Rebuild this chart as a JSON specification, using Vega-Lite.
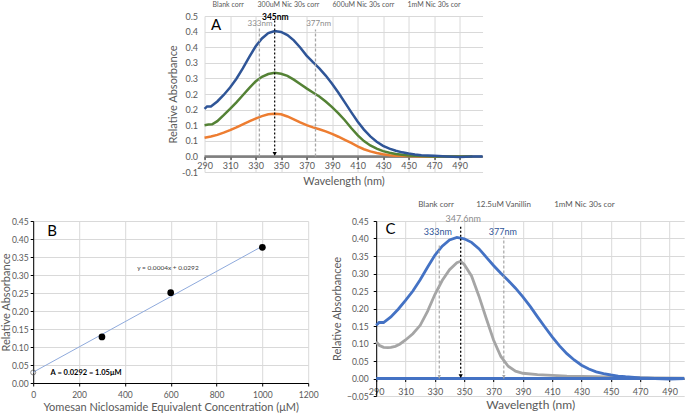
{
  "$schema": "https://vega.github.io/schema/vega-lite/v6.json",
  "padding": {"left": 0, "top": 1, "right": 0, "bottom": 0},
  "background": "white",
  "config": {
    "view": {"stroke": null},
    "font": "Lato",
    "axis": {"labelColor": "#595959", "titleColor": "#595959", "gridColor": "#D9D9D9", "labelFontSize": 9, "titleFontWeight": "normal", "titleFontSize": 11, "labelFont": "Lato", "titleFont": "Lato", "labelOverlap": false, "labelFlush": false, "tickCount": 30},
    "legend": {"labelColor": "#595959", "labelFont": "Lato"}
  },
  "resolve": {"scale": {"color": "independent"}, "legend": {"color": "independent"}},
  "datasets": {
    "A": [
      {"s": "Blank corr", "wl": 290, "abs": 0},
      {"s": "Blank corr", "wl": 400, "abs": 0},
      {"s": "Blank corr", "wl": 508, "abs": 0},
      {"s": "300uM Nic 30s corr", "wl": 290, "abs": 0.060},
      {"s": "300uM Nic 30s corr", "wl": 295, "abs": 0.064},
      {"s": "300uM Nic 30s corr", "wl": 300, "abs": 0.069},
      {"s": "300uM Nic 30s corr", "wl": 305, "abs": 0.076},
      {"s": "300uM Nic 30s corr", "wl": 310, "abs": 0.084},
      {"s": "300uM Nic 30s corr", "wl": 315, "abs": 0.093},
      {"s": "300uM Nic 30s corr", "wl": 320, "abs": 0.103},
      {"s": "300uM Nic 30s corr", "wl": 325, "abs": 0.112},
      {"s": "300uM Nic 30s corr", "wl": 330, "abs": 0.121},
      {"s": "300uM Nic 30s corr", "wl": 335, "abs": 0.129},
      {"s": "300uM Nic 30s corr", "wl": 340, "abs": 0.135},
      {"s": "300uM Nic 30s corr", "wl": 345, "abs": 0.137},
      {"s": "300uM Nic 30s corr", "wl": 350, "abs": 0.135},
      {"s": "300uM Nic 30s corr", "wl": 355, "abs": 0.128},
      {"s": "300uM Nic 30s corr", "wl": 360, "abs": 0.119},
      {"s": "300uM Nic 30s corr", "wl": 365, "abs": 0.109},
      {"s": "300uM Nic 30s corr", "wl": 370, "abs": 0.100},
      {"s": "300uM Nic 30s corr", "wl": 375, "abs": 0.093},
      {"s": "300uM Nic 30s corr", "wl": 380, "abs": 0.087},
      {"s": "300uM Nic 30s corr", "wl": 385, "abs": 0.080},
      {"s": "300uM Nic 30s corr", "wl": 390, "abs": 0.072},
      {"s": "300uM Nic 30s corr", "wl": 395, "abs": 0.063},
      {"s": "300uM Nic 30s corr", "wl": 400, "abs": 0.053},
      {"s": "300uM Nic 30s corr", "wl": 405, "abs": 0.043},
      {"s": "300uM Nic 30s corr", "wl": 410, "abs": 0.032},
      {"s": "300uM Nic 30s corr", "wl": 415, "abs": 0.023},
      {"s": "300uM Nic 30s corr", "wl": 420, "abs": 0.016},
      {"s": "300uM Nic 30s corr", "wl": 425, "abs": 0.011},
      {"s": "300uM Nic 30s corr", "wl": 430, "abs": 0.007},
      {"s": "300uM Nic 30s corr", "wl": 435, "abs": 0.004},
      {"s": "300uM Nic 30s corr", "wl": 440, "abs": 0.002},
      {"s": "300uM Nic 30s corr", "wl": 450, "abs": 0.001},
      {"s": "300uM Nic 30s corr", "wl": 460, "abs": 0.000},
      {"s": "300uM Nic 30s corr", "wl": 500, "abs": 0.000},
      {"s": "600uM Nic 30s corr", "wl": 290, "abs": 0.100},
      {"s": "600uM Nic 30s corr", "wl": 293, "abs": 0.102},
      {"s": "600uM Nic 30s corr", "wl": 296, "abs": 0.103},
      {"s": "600uM Nic 30s corr", "wl": 300, "abs": 0.113},
      {"s": "600uM Nic 30s corr", "wl": 305, "abs": 0.132},
      {"s": "600uM Nic 30s corr", "wl": 310, "abs": 0.152},
      {"s": "600uM Nic 30s corr", "wl": 315, "abs": 0.173},
      {"s": "600uM Nic 30s corr", "wl": 320, "abs": 0.196},
      {"s": "600uM Nic 30s corr", "wl": 325, "abs": 0.219},
      {"s": "600uM Nic 30s corr", "wl": 330, "abs": 0.240},
      {"s": "600uM Nic 30s corr", "wl": 335, "abs": 0.255},
      {"s": "600uM Nic 30s corr", "wl": 340, "abs": 0.264},
      {"s": "600uM Nic 30s corr", "wl": 345, "abs": 0.268},
      {"s": "600uM Nic 30s corr", "wl": 350, "abs": 0.265},
      {"s": "600uM Nic 30s corr", "wl": 355, "abs": 0.258},
      {"s": "600uM Nic 30s corr", "wl": 360, "abs": 0.246},
      {"s": "600uM Nic 30s corr", "wl": 365, "abs": 0.232},
      {"s": "600uM Nic 30s corr", "wl": 370, "abs": 0.218},
      {"s": "600uM Nic 30s corr", "wl": 375, "abs": 0.205},
      {"s": "600uM Nic 30s corr", "wl": 380, "abs": 0.192},
      {"s": "600uM Nic 30s corr", "wl": 385, "abs": 0.176},
      {"s": "600uM Nic 30s corr", "wl": 390, "abs": 0.158},
      {"s": "600uM Nic 30s corr", "wl": 395, "abs": 0.138},
      {"s": "600uM Nic 30s corr", "wl": 400, "abs": 0.116},
      {"s": "600uM Nic 30s corr", "wl": 405, "abs": 0.091},
      {"s": "600uM Nic 30s corr", "wl": 410, "abs": 0.068},
      {"s": "600uM Nic 30s corr", "wl": 415, "abs": 0.049},
      {"s": "600uM Nic 30s corr", "wl": 420, "abs": 0.035},
      {"s": "600uM Nic 30s corr", "wl": 425, "abs": 0.025},
      {"s": "600uM Nic 30s corr", "wl": 430, "abs": 0.017},
      {"s": "600uM Nic 30s corr", "wl": 435, "abs": 0.012},
      {"s": "600uM Nic 30s corr", "wl": 440, "abs": 0.008},
      {"s": "600uM Nic 30s corr", "wl": 450, "abs": 0.003},
      {"s": "600uM Nic 30s corr", "wl": 460, "abs": 0.001},
      {"s": "600uM Nic 30s corr", "wl": 470, "abs": 0.000},
      {"s": "600uM Nic 30s corr", "wl": 500, "abs": 0.000},
      {"s": "1mM Nic 30s cor", "wl": 290, "abs": 0.152},
      {"s": "1mM Nic 30s cor", "wl": 292, "abs": 0.160},
      {"s": "1mM Nic 30s cor", "wl": 295, "abs": 0.160},
      {"s": "1mM Nic 30s cor", "wl": 300, "abs": 0.176},
      {"s": "1mM Nic 30s cor", "wl": 305, "abs": 0.197},
      {"s": "1mM Nic 30s cor", "wl": 310, "abs": 0.221},
      {"s": "1mM Nic 30s cor", "wl": 315, "abs": 0.249},
      {"s": "1mM Nic 30s cor", "wl": 320, "abs": 0.282},
      {"s": "1mM Nic 30s cor", "wl": 325, "abs": 0.318},
      {"s": "1mM Nic 30s cor", "wl": 330, "abs": 0.352},
      {"s": "1mM Nic 30s cor", "wl": 335, "abs": 0.378},
      {"s": "1mM Nic 30s cor", "wl": 340, "abs": 0.395},
      {"s": "1mM Nic 30s cor", "wl": 345, "abs": 0.402},
      {"s": "1mM Nic 30s cor", "wl": 350, "abs": 0.399},
      {"s": "1mM Nic 30s cor", "wl": 355, "abs": 0.389},
      {"s": "1mM Nic 30s cor", "wl": 360, "abs": 0.372},
      {"s": "1mM Nic 30s cor", "wl": 365, "abs": 0.349},
      {"s": "1mM Nic 30s cor", "wl": 370, "abs": 0.323},
      {"s": "1mM Nic 30s cor", "wl": 375, "abs": 0.302},
      {"s": "1mM Nic 30s cor", "wl": 380, "abs": 0.282},
      {"s": "1mM Nic 30s cor", "wl": 385, "abs": 0.259},
      {"s": "1mM Nic 30s cor", "wl": 390, "abs": 0.233},
      {"s": "1mM Nic 30s cor", "wl": 395, "abs": 0.204},
      {"s": "1mM Nic 30s cor", "wl": 400, "abs": 0.173},
      {"s": "1mM Nic 30s cor", "wl": 405, "abs": 0.142},
      {"s": "1mM Nic 30s cor", "wl": 410, "abs": 0.112},
      {"s": "1mM Nic 30s cor", "wl": 415, "abs": 0.086},
      {"s": "1mM Nic 30s cor", "wl": 420, "abs": 0.064},
      {"s": "1mM Nic 30s cor", "wl": 425, "abs": 0.047},
      {"s": "1mM Nic 30s cor", "wl": 430, "abs": 0.034},
      {"s": "1mM Nic 30s cor", "wl": 435, "abs": 0.025},
      {"s": "1mM Nic 30s cor", "wl": 440, "abs": 0.018},
      {"s": "1mM Nic 30s cor", "wl": 445, "abs": 0.013},
      {"s": "1mM Nic 30s cor", "wl": 450, "abs": 0.009},
      {"s": "1mM Nic 30s cor", "wl": 455, "abs": 0.006},
      {"s": "1mM Nic 30s cor", "wl": 460, "abs": 0.004},
      {"s": "1mM Nic 30s cor", "wl": 470, "abs": 0.002},
      {"s": "1mM Nic 30s cor", "wl": 480, "abs": 0.000},
      {"s": "1mM Nic 30s cor", "wl": 490, "abs": -0.002},
      {"s": "1mM Nic 30s cor", "wl": 500, "abs": 0.000},
      {"s": "1mM Nic 30s cor", "wl": 508, "abs": 0.000}
    ],
    "C": [
      {"s": "12.5uM Vanillin", "wl": 290, "abs": 0.105},
      {"s": "12.5uM Vanillin", "wl": 292, "abs": 0.095},
      {"s": "12.5uM Vanillin", "wl": 295, "abs": 0.089},
      {"s": "12.5uM Vanillin", "wl": 298, "abs": 0.088},
      {"s": "12.5uM Vanillin", "wl": 300, "abs": 0.089},
      {"s": "12.5uM Vanillin", "wl": 303, "abs": 0.092},
      {"s": "12.5uM Vanillin", "wl": 306, "abs": 0.098},
      {"s": "12.5uM Vanillin", "wl": 310, "abs": 0.110},
      {"s": "12.5uM Vanillin", "wl": 315, "abs": 0.128},
      {"s": "12.5uM Vanillin", "wl": 320, "abs": 0.152},
      {"s": "12.5uM Vanillin", "wl": 325, "abs": 0.192},
      {"s": "12.5uM Vanillin", "wl": 330, "abs": 0.240},
      {"s": "12.5uM Vanillin", "wl": 335, "abs": 0.280},
      {"s": "12.5uM Vanillin", "wl": 340, "abs": 0.311},
      {"s": "12.5uM Vanillin", "wl": 345, "abs": 0.331},
      {"s": "12.5uM Vanillin", "wl": 347.6, "abs": 0.335},
      {"s": "12.5uM Vanillin", "wl": 350, "abs": 0.326},
      {"s": "12.5uM Vanillin", "wl": 355, "abs": 0.293},
      {"s": "12.5uM Vanillin", "wl": 360, "abs": 0.236},
      {"s": "12.5uM Vanillin", "wl": 365, "abs": 0.172},
      {"s": "12.5uM Vanillin", "wl": 370, "abs": 0.110},
      {"s": "12.5uM Vanillin", "wl": 375, "abs": 0.063},
      {"s": "12.5uM Vanillin", "wl": 380, "abs": 0.035},
      {"s": "12.5uM Vanillin", "wl": 385, "abs": 0.021},
      {"s": "12.5uM Vanillin", "wl": 390, "abs": 0.015},
      {"s": "12.5uM Vanillin", "wl": 400, "abs": 0.011},
      {"s": "12.5uM Vanillin", "wl": 410, "abs": 0.009},
      {"s": "12.5uM Vanillin", "wl": 420, "abs": 0.007},
      {"s": "12.5uM Vanillin", "wl": 440, "abs": 0.005},
      {"s": "12.5uM Vanillin", "wl": 460, "abs": 0.003},
      {"s": "12.5uM Vanillin", "wl": 480, "abs": 0.002},
      {"s": "12.5uM Vanillin", "wl": 500, "abs": 0.001},
      {"s": "Blank corr", "wl": 290, "abs": 0},
      {"s": "Blank corr", "wl": 400, "abs": 0},
      {"s": "Blank corr", "wl": 500, "abs": 0},
      {"s": "1mM Nic 30s cor", "wl": 290, "abs": 0.152},
      {"s": "1mM Nic 30s cor", "wl": 292, "abs": 0.160},
      {"s": "1mM Nic 30s cor", "wl": 295, "abs": 0.160},
      {"s": "1mM Nic 30s cor", "wl": 300, "abs": 0.176},
      {"s": "1mM Nic 30s cor", "wl": 305, "abs": 0.198},
      {"s": "1mM Nic 30s cor", "wl": 310, "abs": 0.223},
      {"s": "1mM Nic 30s cor", "wl": 315, "abs": 0.250},
      {"s": "1mM Nic 30s cor", "wl": 320, "abs": 0.282},
      {"s": "1mM Nic 30s cor", "wl": 325, "abs": 0.318},
      {"s": "1mM Nic 30s cor", "wl": 330, "abs": 0.352},
      {"s": "1mM Nic 30s cor", "wl": 335, "abs": 0.378},
      {"s": "1mM Nic 30s cor", "wl": 340, "abs": 0.396},
      {"s": "1mM Nic 30s cor", "wl": 345, "abs": 0.403},
      {"s": "1mM Nic 30s cor", "wl": 350, "abs": 0.399},
      {"s": "1mM Nic 30s cor", "wl": 355, "abs": 0.389},
      {"s": "1mM Nic 30s cor", "wl": 360, "abs": 0.371},
      {"s": "1mM Nic 30s cor", "wl": 365, "abs": 0.347},
      {"s": "1mM Nic 30s cor", "wl": 370, "abs": 0.323},
      {"s": "1mM Nic 30s cor", "wl": 375, "abs": 0.301},
      {"s": "1mM Nic 30s cor", "wl": 380, "abs": 0.280},
      {"s": "1mM Nic 30s cor", "wl": 385, "abs": 0.258},
      {"s": "1mM Nic 30s cor", "wl": 390, "abs": 0.233},
      {"s": "1mM Nic 30s cor", "wl": 395, "abs": 0.206},
      {"s": "1mM Nic 30s cor", "wl": 400, "abs": 0.176},
      {"s": "1mM Nic 30s cor", "wl": 405, "abs": 0.147},
      {"s": "1mM Nic 30s cor", "wl": 410, "abs": 0.119},
      {"s": "1mM Nic 30s cor", "wl": 415, "abs": 0.093},
      {"s": "1mM Nic 30s cor", "wl": 420, "abs": 0.071},
      {"s": "1mM Nic 30s cor", "wl": 425, "abs": 0.053},
      {"s": "1mM Nic 30s cor", "wl": 430, "abs": 0.038},
      {"s": "1mM Nic 30s cor", "wl": 435, "abs": 0.027},
      {"s": "1mM Nic 30s cor", "wl": 440, "abs": 0.019},
      {"s": "1mM Nic 30s cor", "wl": 445, "abs": 0.014},
      {"s": "1mM Nic 30s cor", "wl": 450, "abs": 0.010},
      {"s": "1mM Nic 30s cor", "wl": 455, "abs": 0.007},
      {"s": "1mM Nic 30s cor", "wl": 460, "abs": 0.005},
      {"s": "1mM Nic 30s cor", "wl": 470, "abs": 0.002},
      {"s": "1mM Nic 30s cor", "wl": 480, "abs": 0.000},
      {"s": "1mM Nic 30s cor", "wl": 490, "abs": -0.002},
      {"s": "1mM Nic 30s cor", "wl": 500, "abs": 0.000}
    ],
    "Bpts": [
      {"conc": 300, "abs": 0.128},
      {"conc": 600, "abs": 0.251},
      {"conc": 1000, "abs": 0.377}
    ],
    "Bfit": [
      {"conc": 0, "abs": 0.030},
      {"conc": 1000, "abs": 0.380}
    ],
    "Bzero": [
      {"conc": 0, "abs": 0.0292}
    ]
  },
  "spacing": 14,
  "center": true,
  "vconcat": [
    {
      "width": 278,
      "height": 156,
      "resolve": {"axis": {"y": "independent"}},
      "layer": [
        {
          "data": {"name": "A"},
          "mark": {"type": "line", "strokeWidth": 2.5},
          "encoding": {
            "x": {"field": "wl", "type": "quantitative", "scale": {"domain": [290, 508], "nice": false, "zero": false},
              "axis": {"values": [290, 310, 330, 350, 370, 390, 410, 430, 450, 470, 490], "tickCount": 30, "labelOverlap": false, "title": "Wavelength (nm)", "offset": -15.6, "domainColor": "#000000", "tickColor": "#000000", "tickSize": 3, "labelPadding": 2, "titlePadding": 5, "labelFontSize": 9, "titleFontSize": 11}},
            "y": {"field": "abs", "type": "quantitative", "scale": {"domain": [-0.05, 0.45], "nice": false, "zero": false},
              "axis": {"values": [-0.05, 0, 0.05, 0.1, 0.15, 0.2, 0.25, 0.3, 0.35, 0.4, 0.45], "tickCount": 30, "labelOverlap": false, "labelExpr": "datum.value < -0.01 ? '-0.1' : format(round(datum.value * 10 + 0.001) / 10, '.1f')", "title": "Relative Absorbance", "domain": false, "ticks": false, "labelPadding": 7, "titlePadding": 3, "labelFontSize": 9, "titleFontSize": 11}},
            "color": {"field": "s", "type": "nominal",
              "scale": {"domain": ["Blank corr", "300uM Nic 30s corr", "600uM Nic 30s corr", "1mM Nic 30s cor"], "range": ["#7F7F7F", "#ED7D31", "#548235", "#2F5597"]},
              "legend": {"orient": "none", "legendX": -3, "legendY": -15, "title": null, "direction": "horizontal", "labelFontSize": 7, "symbolType": "circle", "symbolSize": 12, "columnPadding": 2, "gridAlign": "each", "symbolStrokeWidth": 0}}
          }
        },
        {
          "data": {"values": [{"wl": 333, "abs": 0, "top": 0.41}, {"wl": 377, "abs": 0, "top": 0.407}]},
          "mark": {"type": "rule", "strokeDash": [3, 2], "color": "#A6A6A6", "strokeWidth": 1.3},
          "encoding": {"x": {"field": "wl", "type": "quantitative"},
            "y": {"field": "abs", "type": "quantitative", "axis": {"orient": "right", "values": [-0.05, 0, 0.05, 0.1, 0.15, 0.2, 0.25, 0.3, 0.35, 0.4, 0.45], "tickCount": 30, "labelOverlap": false, "labelExpr": "datum.value < -0.01 ? '-0.1' : format(round(datum.value * 10 + 0.001) / 10, '.1f')", "labelColor": "transparent", "title": null, "domain": false, "ticks": false, "grid": false, "labelPadding": 20, "labelFontSize": 9}},
            "y2": {"field": "top"}}
        },
        {
          "data": {"values": [{"wl": 345, "abs": 0.006, "top": 0.437}]},
          "mark": {"type": "rule", "strokeDash": [2, 2], "color": "#000000", "strokeWidth": 1.2},
          "encoding": {"x": {"field": "wl", "type": "quantitative"}, "y": {"field": "abs", "type": "quantitative", "axis": null}, "y2": {"field": "top"}}
        },
        {
          "data": {"values": [{"wl": 345, "abs": 0.008}]},
          "mark": {"type": "point", "shape": "triangle-down", "filled": true, "color": "#000000", "size": 18, "opacity": 1},
          "encoding": {"x": {"field": "wl", "type": "quantitative"}, "y": {"field": "abs", "type": "quantitative", "axis": null}}
        },
        {
          "data": {"values": [{"wl": 333.5, "abs": 0.424, "label": "333nm"}, {"wl": 379.5, "abs": 0.424, "label": "377nm"}]},
          "mark": {"type": "text", "fontSize": 8, "color": "#8C8C8C"},
          "encoding": {"x": {"field": "wl", "type": "quantitative"}, "y": {"field": "abs", "type": "quantitative", "axis": null}, "text": {"field": "label"}}
        },
        {
          "data": {"values": [{"wl": 345.5, "abs": 0.447, "label": "345nm"}]},
          "mark": {"type": "text", "fontSize": 8.5, "fontWeight": "bold", "color": "#000000"},
          "encoding": {"x": {"field": "wl", "type": "quantitative"}, "y": {"field": "abs", "type": "quantitative", "axis": null}, "text": {"field": "label"}}
        },
        {
          "data": {"values": [{"wl": 299, "abs": 0.422, "label": "A"}]},
          "mark": {"type": "text", "fontSize": 15, "color": "#000000"},
          "encoding": {"x": {"field": "wl", "type": "quantitative"}, "y": {"field": "abs", "type": "quantitative", "axis": null}, "text": {"field": "label"}}
        }
      ]
    },
    {
      "spacing": 13,
      "resolve": {"scale": {"color": "independent"}, "legend": {"color": "independent"}},
      "hconcat": [
        {
          "width": 275,
          "height": 162,
          "layer": [
            {
              "data": {"name": "Bfit"},
              "mark": {"type": "line", "color": "#8FAADC", "strokeWidth": 1},
              "encoding": {
                "x": {"field": "conc", "type": "quantitative", "scale": {"domain": [0, 1200], "nice": false},
                  "axis": {"values": [0, 200, 400, 600, 800, 1000, 1200], "tickCount": 30, "labelOverlap": false, "format": "d", "title": "Yomesan Niclosamide  Equivalent Concentration (μM)", "domainColor": "#000000", "tickColor": "#000000", "tickSize": 3, "labelPadding": 4, "titlePadding": 3, "labelFontSize": 8.5, "titleFontSize": 11}},
                "y": {"field": "abs", "type": "quantitative", "scale": {"domain": [0, 0.45], "nice": false},
                  "axis": {"values": [0, 0.05, 0.1, 0.15, 0.2, 0.25, 0.3, 0.35, 0.4, 0.45], "tickCount": 30, "labelOverlap": false, "format": ".2f", "title": "Relative Absorbance", "domainColor": "#000000", "tickColor": "#000000", "tickSize": 3, "labelPadding": 2, "titlePadding": 0, "labelFontSize": 8.5, "titleFontSize": 11}}
              }
            },
            {
              "data": {"name": "Bpts"},
              "mark": {"type": "point", "filled": true, "color": "#000000", "size": 45, "opacity": 1},
              "encoding": {"x": {"field": "conc", "type": "quantitative"}, "y": {"field": "abs", "type": "quantitative"}}
            },
            {
              "data": {"name": "Bzero"},
              "mark": {"type": "point", "filled": false, "color": "#595959", "size": 25, "strokeWidth": 1},
              "encoding": {"x": {"field": "conc", "type": "quantitative"}, "y": {"field": "abs", "type": "quantitative"}}
            },
            {
              "data": {"values": [{"conc": 588, "abs": 0.32, "label": "y = 0.0004x + 0.0292"}]},
              "mark": {"type": "text", "fontSize": 6.5, "color": "#404040"},
              "encoding": {"x": {"field": "conc", "type": "quantitative"}, "y": {"field": "abs", "type": "quantitative"}, "text": {"field": "label"}}
            },
            {
              "data": {"values": [{"conc": 76, "abs": 0.029, "label": "A = 0.0292 = 1.05μM"}]},
              "mark": {"type": "text", "fontSize": 7.5, "fontWeight": "bold", "align": "left", "color": "#000000"},
              "encoding": {"x": {"field": "conc", "type": "quantitative"}, "y": {"field": "abs", "type": "quantitative"}, "text": {"field": "label"}}
            },
            {
              "data": {"values": [{"conc": 82, "abs": 0.422, "label": "B"}]},
              "mark": {"type": "text", "fontSize": 15, "color": "#000000"},
              "encoding": {"x": {"field": "conc", "type": "quantitative"}, "y": {"field": "abs", "type": "quantitative"}, "text": {"field": "label"}}
            }
          ]
        },
        {
          "width": 308,
          "height": 175,
          "layer": [
            {
              "data": {"name": "C"},
              "mark": {"type": "line", "strokeWidth": 2.8},
              "encoding": {
                "x": {"field": "wl", "type": "quantitative", "scale": {"domain": [290, 500], "nice": false, "zero": false},
                  "axis": {"values": [290, 310, 330, 350, 370, 390, 410, 430, 450, 470, 490], "tickCount": 30, "labelOverlap": false, "title": "Wavelength (nm)", "offset": -17.5, "domainColor": "#000000", "tickColor": "#000000", "tickSize": 3, "labelPadding": 6, "titlePadding": 3, "labelFontSize": 9, "titleFontSize": 12}},
                "y": {"field": "abs", "type": "quantitative", "scale": {"domain": [-0.05, 0.45], "nice": false, "zero": false},
                  "axis": {"values": [-0.05, 0, 0.05, 0.1, 0.15, 0.2, 0.25, 0.3, 0.35, 0.4, 0.45], "tickCount": 30, "labelOverlap": false, "format": ".2f", "title": "Relative Absorbancee", "domainColor": "#000000", "tickColor": "#000000", "tickSize": 3, "labelPadding": 5, "titlePadding": 4, "labelFontSize": 8.5, "titleFontSize": 11}},
                "color": {"field": "s", "type": "nominal",
                  "scale": {"domain": ["Blank corr", "12.5uM Vanillin", "1mM Nic 30s cor"], "range": ["#4472C4", "#A5A5A5", "#4472C4"]},
                  "legend": {"orient": "none", "legendX": 30, "legendY": -20, "title": null, "direction": "horizontal", "labelFontSize": 8, "symbolType": "circle", "symbolSize": 14, "columnPadding": 10, "gridAlign": "each", "symbolStrokeWidth": 0}}
              }
            },
            {
              "data": {"values": [{"wl": 333, "abs": 0, "top": 0.38}, {"wl": 377, "abs": 0, "top": 0.405}]},
              "mark": {"type": "rule", "strokeDash": [3, 2], "color": "#A6A6A6", "strokeWidth": 1.2},
              "encoding": {"x": {"field": "wl", "type": "quantitative"}, "y": {"field": "abs", "type": "quantitative"}, "y2": {"field": "top"}}
            },
            {
              "data": {"values": [{"wl": 333, "abs": 0.006}, {"wl": 377, "abs": 0.006}]},
              "mark": {"type": "point", "shape": "triangle-down", "filled": true, "color": "#A6A6A6", "size": 12, "opacity": 1},
              "encoding": {"x": {"field": "wl", "type": "quantitative"}, "y": {"field": "abs", "type": "quantitative"}}
            },
            {
              "data": {"values": [{"wl": 347.6, "abs": 0.005, "top": 0.435}]},
              "mark": {"type": "rule", "strokeDash": [2, 2], "color": "#000000", "strokeWidth": 1.3},
              "encoding": {"x": {"field": "wl", "type": "quantitative"}, "y": {"field": "abs", "type": "quantitative"}, "y2": {"field": "top"}}
            },
            {
              "data": {"values": [{"wl": 347.6, "abs": 0.007}]},
              "mark": {"type": "point", "shape": "triangle-down", "filled": true, "color": "#000000", "size": 18, "opacity": 1},
              "encoding": {"x": {"field": "wl", "type": "quantitative"}, "y": {"field": "abs", "type": "quantitative"}}
            },
            {
              "data": {"values": [{"wl": 332, "abs": 0.42, "label": "333nm"}, {"wl": 376.3, "abs": 0.42, "label": "377nm"}]},
              "mark": {"type": "text", "fontSize": 9, "color": "#2F5597"},
              "encoding": {"x": {"field": "wl", "type": "quantitative"}, "y": {"field": "abs", "type": "quantitative"}, "text": {"field": "label"}}
            },
            {
              "data": {"values": [{"wl": 349.3, "abs": 0.457, "label": "347.6nm"}]},
              "mark": {"type": "text", "fontSize": 9, "color": "#8C8C8C"},
              "encoding": {"x": {"field": "wl", "type": "quantitative"}, "y": {"field": "abs", "type": "quantitative"}, "text": {"field": "label"}}
            },
            {
              "data": {"values": [{"wl": 299.8, "abs": 0.428, "label": "C"}]},
              "mark": {"type": "text", "fontSize": 15, "color": "#000000"},
              "encoding": {"x": {"field": "wl", "type": "quantitative"}, "y": {"field": "abs", "type": "quantitative"}, "text": {"field": "label"}}
            }
          ]
        }
      ]
    }
  ]
}
